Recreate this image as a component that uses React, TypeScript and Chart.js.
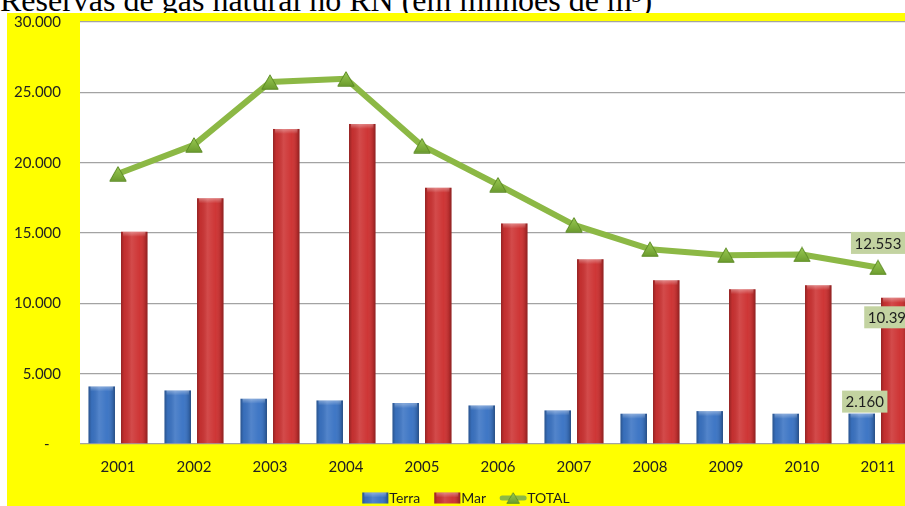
import React, { useEffect, useRef } from 'react';
import { Chart, registerables } from 'chart.js';

Chart.register(...registerables);

const titleText = 'Reservas de gás natural no RN (em milhões de m³)';
const years = ['2001', '2002', '2003', '2004', '2005', '2006', '2007', '2008', '2009', '2010', '2011'];
const terra = [4095, 3810, 3219, 3098, 2906, 2742, 2386, 2151, 2336, 2151, 2160];
const mar = [15085, 17465, 22400, 22756, 18220, 15684, 13141, 11645, 11004, 11289, 10393];
const total = [19209, 21261, 25726, 25960, 21211, 18433, 15584, 13853, 13426, 13476, 12553];
const seriesNames = ['Terra', 'Mar', 'TOTAL'];
const yMin = 0;
const yMax = 30000;
const yStep = 5000;

const fmt = (v: number) => String(Math.round(v)).replace(/\B(?=(\d{3})+(?!\d))/g, '.');

const BLUE = '#3b74c4';
const RED = '#cd3232';
const GREEN = '#8cb845';
const FONT = 'Lato';

function makeTriangle(): HTMLCanvasElement {
  const c = document.createElement('canvas');
  c.width = 18;
  c.height = 16;
  const g = c.getContext('2d')!;
  const grad = g.createLinearGradient(0, 0, 0, 16);
  grad.addColorStop(0, '#9ccc55');
  grad.addColorStop(1, '#6a9a2c');
  g.beginPath();
  g.moveTo(9, 0.8);
  g.lineTo(17.2, 15.2);
  g.lineTo(0.8, 15.2);
  g.closePath();
  g.fillStyle = grad;
  g.fill();
  g.strokeStyle = '#5c8a25';
  g.lineWidth = 1;
  g.stroke();
  return c;
}

function shadeBar(ctx: CanvasRenderingContext2D, left: number, top: number, w: number, h: number) {
  if (h <= 0) return;
  const gr = ctx.createLinearGradient(left, 0, left + w, 0);
  gr.addColorStop(0, 'rgba(0,0,0,0.28)');
  gr.addColorStop(0.12, 'rgba(0,0,0,0.05)');
  gr.addColorStop(0.4, 'rgba(255,255,255,0.12)');
  gr.addColorStop(0.7, 'rgba(255,255,255,0.02)');
  gr.addColorStop(0.9, 'rgba(0,0,0,0.12)');
  gr.addColorStop(1, 'rgba(0,0,0,0.32)');
  ctx.fillStyle = gr;
  ctx.fillRect(left, top, w, h);
  const cap = Math.min(5, h);
  const gv = ctx.createLinearGradient(0, top, 0, top + cap);
  gv.addColorStop(0, 'rgba(255,255,255,0.35)');
  gv.addColorStop(1, 'rgba(255,255,255,0)');
  ctx.fillStyle = gv;
  ctx.fillRect(left + 2, top, w - 4, cap);
}

const bgPlugin = {
  id: 'bgPlugin',
  beforeDraw(chart: any) {
    const { ctx, chartArea } = chart;
    ctx.save();
    ctx.fillStyle = '#ffff00';
    ctx.fillRect(0, 0, chart.width, chart.height);
    ctx.fillStyle = '#ffffff';
    ctx.fillRect(chartArea.left, chartArea.top, chartArea.right - chartArea.left, chartArea.bottom - chartArea.top);
    ctx.restore();
  },
};

const barShadePlugin = {
  id: 'barShadePlugin',
  afterDatasetDraw(chart: any, args: any) {
    const meta = args.meta;
    if (meta.type !== 'bar') return;
    const ctx = chart.ctx;
    ctx.save();
    meta.data.forEach((el: any) => {
      const p = el.getProps(['x', 'y', 'base', 'width'], true);
      shadeBar(ctx, p.x - p.width / 2, p.y, p.width, p.base - p.y);
    });
    ctx.restore();
  },
};

// offsets of the data-label boxes on the last category, per dataset index
const labelOffsets: Record<number, [number, number]> = {
  0: [0, -24.5], // TOTAL (line)
  1: [3, -12], // Terra
  2: [-3, 19.5], // Mar
};

const lastLabelPlugin = {
  id: 'lastLabelPlugin',
  afterDatasetsDraw(chart: any) {
    const ctx = chart.ctx;
    ctx.save();
    ctx.font = `15px ${FONT}`;
    ctx.textAlign = 'center';
    ctx.textBaseline = 'middle';
    chart.data.datasets.forEach((ds: any, i: number) => {
      const meta = chart.getDatasetMeta(i);
      const n = ds.data.length - 1;
      const el = meta.data[n];
      if (!el) return;
      const p = el.getProps(['x', 'y'], true);
      const off = labelOffsets[i] || [0, 0];
      const cx = p.x + off[0];
      const cy = p.y + off[1];
      const text = fmt(ds.data[n]);
      const tw = ctx.measureText(text).width;
      const bw = tw + 7;
      const bh = 22;
      ctx.fillStyle = '#c3d3a1';
      ctx.fillRect(cx - bw / 2, cy - bh / 2, bw, bh);
      ctx.fillStyle = '#1e1e1e';
      ctx.fillText(text, cx, cy + 1);
    });
    ctx.restore();
  },
};

function makeLegendPlugin(tri: HTMLCanvasElement) {
  return {
    id: 'customLegend',
    afterDraw(chart: any) {
      const ctx = chart.ctx;
      ctx.save();
      ctx.font = `14px ${FONT}`;
      ctx.textBaseline = 'middle';
      ctx.textAlign = 'left';
      const symW = 26;
      const symGap = 1;
      const itemGap = 14;
      const widths = seriesNames.map((s) => ctx.measureText(s).width);
      const totalW = widths.reduce((a, b) => a + b, 0) + seriesNames.length * (symW + symGap) + itemGap * (seriesNames.length - 1);
      let x = chart.width / 2 - totalW / 2;
      const cy = chart.height - 8;
      const colors = [BLUE, RED];
      seriesNames.forEach((name, i) => {
        if (i < 2) {
          ctx.fillStyle = colors[i];
          ctx.fillRect(x, cy - 5.5, symW, 11);
          shadeBar(ctx, x, cy - 5.5, symW, 11);
        } else {
          ctx.strokeStyle = GREEN;
          ctx.lineWidth = 5;
          ctx.lineCap = 'round';
          ctx.beginPath();
          ctx.moveTo(x + 2, cy);
          ctx.lineTo(x + symW - 2, cy);
          ctx.stroke();
          ctx.drawImage(tri, x + symW / 2 - 7, cy - 6, 14, 12);
        }
        x += symW + symGap;
        ctx.fillStyle = '#1e1e1e';
        ctx.fillText(name, x, cy);
        x += widths[i] + itemGap;
      });
      ctx.restore();
    },
  };
}

export default function App() {
  const ref = useRef<HTMLCanvasElement>(null);

  useEffect(() => {
    const canvas = ref.current;
    if (!canvas) return;
    const tri = makeTriangle();
    const chart = new Chart(canvas, {
      type: 'bar',
      data: {
        labels: years,
        datasets: [
          {
            type: 'line',
            label: seriesNames[2],
            data: total,
            borderColor: GREEN,
            borderWidth: 6,
            borderJoinStyle: 'round',
            borderCapStyle: 'round',
            tension: 0,
            pointStyle: tri,
            pointRadius: 1,
            pointHoverRadius: 1,
            pointBorderWidth: 0,
            pointHoverBorderWidth: 0,
            fill: false,
            order: 0,
          } as any,
          {
            type: 'bar',
            label: seriesNames[0],
            data: terra,
            backgroundColor: BLUE,
            borderWidth: 0,
            categoryPercentage: 0.855,
            barPercentage: 0.815,
            order: 1,
          },
          {
            type: 'bar',
            label: seriesNames[1],
            data: mar,
            backgroundColor: RED,
            borderWidth: 0,
            categoryPercentage: 0.855,
            barPercentage: 0.815,
            order: 1,
          },
        ],
      },
      options: {
        animation: false,
        responsive: true,
        maintainAspectRatio: false,
        devicePixelRatio: 1,
        layout: { padding: { top: 9, right: 9, bottom: 0, left: 0 } },
        plugins: {
          legend: { display: false },
          tooltip: { enabled: false },
          title: { display: false },
        },
        scales: {
          x: {
            grid: { display: false },
            border: { display: false },
            ticks: { font: { family: FONT, size: 15 }, color: '#222', padding: 6, maxRotation: 0, autoSkip: false },
            afterFit: (scale: any) => {
              scale.height = 62;
              scale.paddingLeft = 0;
              scale.paddingRight = 0;
            },
          },
          y: {
            min: yMin,
            max: yMax,
            grid: { color: '#a3a3a3', lineWidth: 1.3, drawTicks: false },
            border: { display: false },
            ticks: {
              stepSize: yStep,
              padding: 19,
              font: { family: FONT, size: 15 },
              color: '#222',
              callback: (v: any) => (Number(v) === 0 ? '-   ' : fmt(Number(v))),
            },
            afterFit: (scale: any) => {
              scale.width = 73;
              scale.paddingTop = 0;
              scale.paddingBottom = 0;
            },
          },
        },
      } as any,
      plugins: [bgPlugin, barShadePlugin, lastLabelPlugin, makeLegendPlugin(tri)],
    });
    return () => chart.destroy();
  }, []);

  return (
    <div style={{ position: 'fixed', left: 0, top: 0, width: 905, height: 506, overflow: 'hidden', background: '#fff' }}>
      <div
        style={{
          position: 'absolute',
          left: 0,
          top: -18,
          fontFamily: '"Liberation Serif", "Times New Roman", serif',
          fontSize: 32,
          whiteSpace: 'nowrap',
          color: '#000',
        }}
      >
        {titleText}
      </div>
      <div style={{ position: 'absolute', left: 7, top: 13, width: 918, height: 493 }}>
        <canvas ref={ref} />
      </div>
    </div>
  );
}
